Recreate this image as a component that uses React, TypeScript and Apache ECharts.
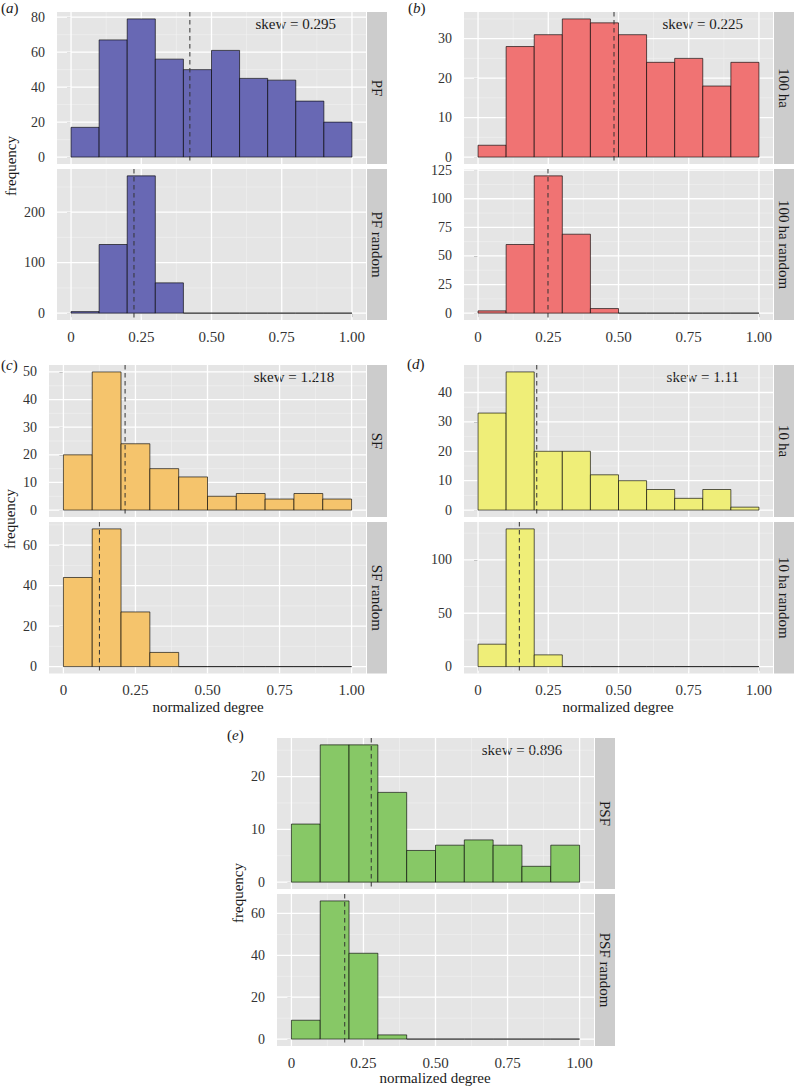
import React, { useEffect, useRef } from "react";
import * as echarts from "echarts";

// ---------- data ----------
const binStarts = [0, 0.1, 0.2, 0.3, 0.4, 0.5, 0.6, 0.7, 0.8, 0.9];
const binWidth = 0.1;

const pfCounts = [17, 67, 79, 56, 50, 61, 45, 44, 32, 20];
const pfRandomCounts = [3, 136, 272, 60, 0, 0, 0, 0, 0, 0];
const ha100Counts = [3, 28, 31, 35, 34, 31, 24, 25, 18, 24];
const ha100RandomCounts = [2, 60, 120, 69, 4, 0, 0, 0, 0, 0];
const sfCounts = [20, 50, 24, 15, 12, 5, 6, 4, 6, 4];
const sfRandomCounts = [44, 68, 27, 7, 0, 0, 0, 0, 0, 0];
const ha10Counts = [33, 47, 20, 20, 12, 10, 7, 4, 7, 1];
const ha10RandomCounts = [21, 129, 11, 0, 0, 0, 0, 0, 0, 0];
const psfCounts = [11, 26, 26, 17, 6, 7, 8, 7, 3, 7];
const psfRandomCounts = [9, 66, 41, 2, 0, 0, 0, 0, 0, 0];

const pfMean = 0.423;
const pfRandomMean = 0.224;
const ha100Mean = 0.484;
const ha100RandomMean = 0.249;
const sfMean = 0.214;
const sfRandomMean = 0.125;
const ha10Mean = 0.209;
const ha10RandomMean = 0.147;
const psfMean = 0.277;
const psfRandomMean = 0.185;

const xTicks = [0, 0.25, 0.5, 0.75, 1];
const xTickLabels = ["0", "0.25", "0.50", "0.75", "1.00"];
const xMinorLines = [0.125, 0.375, 0.625, 0.875];

const pfYTicks = [0, 20, 40, 60, 80];
const pfRandomYTicks = [0, 100, 200];
const ha100YTicks = [0, 10, 20, 30];
const ha100RandomYTicks = [0, 25, 50, 75, 100, 125];
const sfYTicks = [0, 10, 20, 30, 40, 50];
const sfRandomYTicks = [0, 20, 40, 60];
const ha10YTicks = [0, 10, 20, 30, 40];
const ha10RandomYTicks = [0, 50, 100];
const psfYTicks = [0, 10, 20];
const psfRandomYTicks = [0, 20, 40, 60];

const skewLabels = ["skew = 0.295", "skew = 0.225", "skew = 1.218", "skew = 1.11", "skew = 0.896"];
const skewX = 0.8;

const stripLabels = [
  ["PF", "PF random"],
  ["100\u2009ha", "100\u2009ha random"],
  ["SF", "SF random"],
  ["10\u2009ha", "10\u2009ha random"],
  ["PSF", "PSF random"],
];
const panelLetters = ["a", "b", "c", "d", "e"];
const barColors = ["#6868b4", "#f07373", "#f5c46c", "#efee78", "#87c866"];

// ---------- layout ----------
const FONT = "'Liberation Serif', 'Times New Roman', serif";
const FS = 15;
const FS_Y = 14;
const X_MIN = -0.05;
const X_MAX = 1.05;

const panels = [
  {
    left: 57, width: 309, tops: [12, 169], heights: [152, 151],
    letterPos: [1, 8], freq: [11, 166], xName: null as null | number[],
    facets: [
      { counts: pfCounts, mean: pfMean, yTicks: pfYTicks },
      { counts: pfRandomCounts, mean: pfRandomMean, yTicks: pfRandomYTicks },
    ],
  },
  {
    left: 464, width: 309, tops: [12, 169], heights: [152, 151],
    letterPos: [408, 8], freq: null as null | number[], xName: null as null | number[],
    facets: [
      { counts: ha100Counts, mean: ha100Mean, yTicks: ha100YTicks },
      { counts: ha100RandomCounts, mean: ha100RandomMean, yTicks: ha100RandomYTicks },
    ],
  },
  {
    left: 49, width: 317, tops: [365, 522], heights: [152, 151.5],
    letterPos: [1, 365], freq: [10, 519], xName: [208, 707],
    facets: [
      { counts: sfCounts, mean: sfMean, yTicks: sfYTicks },
      { counts: sfRandomCounts, mean: sfRandomMean, yTicks: sfRandomYTicks },
    ],
  },
  {
    left: 464, width: 309, tops: [365, 522], heights: [152, 151.5],
    letterPos: [407, 364], freq: null as null | number[], xName: [618, 707],
    facets: [
      { counts: ha10Counts, mean: ha10Mean, yTicks: ha10YTicks },
      { counts: ha10RandomCounts, mean: ha10RandomMean, yTicks: ha10RandomYTicks },
    ],
  },
  {
    left: 277, width: 317, tops: [738, 894], heights: [151, 152],
    letterPos: [227, 735], freq: [238, 893], xName: [435, 1078],
    facets: [
      { counts: psfCounts, mean: psfMean, yTicks: psfYTicks },
      { counts: psfRandomCounts, mean: psfRandomMean, yTicks: psfRandomYTicks },
    ],
  },
];

function xLabel(v: number) {
  let best = 0;
  for (let i = 0; i < xTicks.length; i++) {
    if (Math.abs(xTicks[i] - v) < Math.abs(xTicks[best] - v)) best = i;
  }
  return xTickLabels[best];
}

const gridRender = (params: any, api: any) => {
  const cs = params.coordSys;
  const v = api.value(0);
  const dir = api.value(1);
  const major = api.value(2) === 1;
  const style = major
    ? { stroke: "#ffffff", lineWidth: 1.3 }
    : { stroke: "#f2f2f2", lineWidth: 0.6 };
  if (dir === 0) {
    const x = api.coord([v, 0])[0];
    return { type: "line", shape: { x1: x, y1: cs.y, x2: x, y2: cs.y + cs.height }, style };
  }
  const y = api.coord([0, v])[1];
  return { type: "line", shape: { x1: cs.x, y1: y, x2: cs.x + cs.width, y2: y }, style };
};

const makeBarRender = (color: string) => (params: any, api: any) => {
  const p0 = api.coord([api.value(0), 0]);
  const p1 = api.coord([api.value(1), api.value(2)]);
  return {
    type: "polygon",
    shape: { points: [[p0[0], p0[1]], [p1[0], p0[1]], [p1[0], p1[1]], [p0[0], p1[1]]] },
    style: { fill: color, stroke: "rgba(0,0,0,0.7)", lineWidth: 0.9 },
  };
};

const meanRender = (params: any, api: any) => {
  const cs = params.coordSys;
  const x = api.coord([api.value(0), 0])[0];
  return {
    type: "line",
    shape: { x1: x, y1: cs.y, x2: x, y2: cs.y + cs.height },
    style: { stroke: "#333333", lineWidth: 1, lineDash: [4.5, 3.5] },
  };
};

function buildOption() {
  const grid: any[] = [];
  const xAxis: any[] = [];
  const yAxis: any[] = [];
  const series: any[] = [];
  const graphic: any[] = [];
  let gi = 0;

  panels.forEach((p, pi) => {
    p.facets.forEach((f, k) => {
      const top = p.tops[k];
      const height = p.heights[k];
      const isBottom = k === 1;
      grid.push({
        left: p.left, top, width: p.width, height,
        show: true, backgroundColor: "#e5e5e5", borderWidth: 0,
      });
      xAxis.push({
        type: "value", gridIndex: gi, min: X_MIN, max: X_MAX,
        axisLine: { show: false }, splitLine: { show: false },
        axisTick: { show: isBottom, customValues: xTicks, length: 4, lineStyle: { color: "#888888", width: 1 } },
        axisLabel: {
          show: isBottom, customValues: xTicks, formatter: (v: number) => xLabel(v),
          margin: 9, fontFamily: FONT, fontSize: FS, color: "#333333",
        },
      });
      const maxC = Math.max(...f.counts);
      const yMin = -0.05 * maxC;
      const yMax = 1.05 * maxC;
      yAxis.push({
        type: "value", gridIndex: gi, min: yMin, max: yMax,
        axisLine: { show: false }, splitLine: { show: false },
        axisTick: { show: true, customValues: f.yTicks, length: 4, lineStyle: { color: "#888888", width: 1 } },
        axisLabel: {
          show: true, customValues: f.yTicks, formatter: (v: number) => String(Math.round(v)),
          margin: 12, fontFamily: FONT, fontSize: FS_Y, lineHeight: 12, color: "#333333",
        },
      });
      // minor y gridlines at midpoints
      const step = f.yTicks[1] - f.yTicks[0];
      const yMinor: number[] = [];
      for (let i = 0; i < f.yTicks.length; i++) {
        const m = f.yTicks[i] + step / 2;
        if (m < yMax) yMinor.push(m);
      }
      const gridData = [
        ...xMinorLines.map((v) => [v, 0, 0]),
        ...yMinor.map((v) => [v, 1, 0]),
        ...xTicks.map((v) => [v, 0, 1]),
        ...f.yTicks.map((v) => [v, 1, 1]),
      ];
      series.push({
        type: "custom", xAxisIndex: gi, yAxisIndex: gi, silent: true, z: 1,
        data: gridData, renderItem: gridRender,
      });
      series.push({
        type: "custom", xAxisIndex: gi, yAxisIndex: gi, silent: true, z: 2,
        encode: { x: [0, 1], y: 2 },
        data: binStarts.map((s, i) => [s, s + binWidth, f.counts[i]]),
        renderItem: makeBarRender(barColors[pi]),
      });
      series.push({
        type: "custom", xAxisIndex: gi, yAxisIndex: gi, silent: true, z: 3,
        data: [[f.mean, 0]], renderItem: meanRender,
      });

      // strip
      const sx = p.left + p.width + 1;
      graphic.push({
        type: "rect", silent: true,
        shape: { x: sx, y: top, width: 20, height },
        style: { fill: "#cccccc" },
      });
      graphic.push({
        type: "text", silent: true, x: sx + 10, y: top + height / 2, rotation: -Math.PI / 2,
        style: {
          text: stripLabels[pi][k], font: `${FS}px ${FONT}`, fill: "#1a1a1a",
          textAlign: "center", textVerticalAlign: "middle",
        },
      });

      if (k === 0) {
        graphic.push({
          type: "text", silent: true,
          x: p.left + ((skewX - X_MIN) / (X_MAX - X_MIN)) * p.width, y: top + 12,
          style: {
            text: skewLabels[pi], font: `${FS}px ${FONT}`, fill: "#1a1a1a",
            textAlign: "center", textVerticalAlign: "middle",
          },
        });
      }
      gi++;
    });

    graphic.push({
      type: "text", silent: true, x: p.letterPos[0], y: p.letterPos[1],
      style: {
        text: `{p|(}{i|${panelLetters[pi]}}{p|)}`,
        textVerticalAlign: "middle",
        rich: {
          p: { fontFamily: FONT, fontSize: FS, fill: "#1a1a1a" },
          i: { fontFamily: FONT, fontSize: FS, fontStyle: "italic", fill: "#1a1a1a" },
        },
      },
    });
    if (p.freq) {
      graphic.push({
        type: "text", silent: true, x: p.freq[0], y: p.freq[1], rotation: Math.PI / 2,
        style: {
          text: "frequency", font: `${FS}px ${FONT}`, fill: "#1a1a1a",
          textAlign: "center", textVerticalAlign: "middle",
        },
      });
    }
    if (p.xName) {
      graphic.push({
        type: "text", silent: true, x: p.xName[0], y: p.xName[1],
        style: {
          text: "normalized degree", font: `${FS}px ${FONT}`, fill: "#1a1a1a",
          textAlign: "center", textVerticalAlign: "middle",
        },
      });
    }
  });

  return {
    animation: false,
    backgroundColor: "#ffffff",
    grid, xAxis, yAxis, series, graphic,
  };
}

export default function App() {
  const ref = useRef<HTMLDivElement | null>(null);
  useEffect(() => {
    if (!ref.current) return;
    const chart = echarts.init(ref.current, null, { renderer: "svg", width: 794, height: 1088 });
    chart.setOption(buildOption() as any);
    return () => chart.dispose();
  }, []);
  return (
    <div
      ref={ref}
      style={{ position: "absolute", left: 0, top: 0, width: 794, height: 1088, background: "#fff" }}
    />
  );
}
